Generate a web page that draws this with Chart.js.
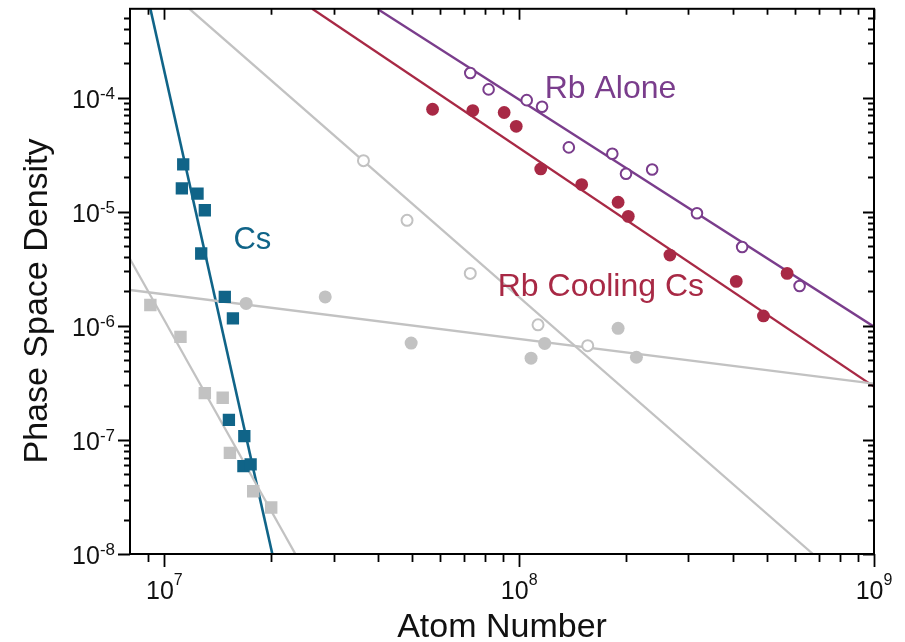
<!DOCTYPE html>
<html>
<head>
<meta charset="utf-8">
<title>Phase Space Density vs Atom Number</title>
<script src="https://cdn.jsdelivr.net/npm/chart.js@4.4.1/dist/chart.umd.min.js"></script>
<style>
    html, body { margin: 0; padding: 0; background: #fff; }
    canvas { display: block; }
</style>
</head>
<body>
<canvas id="myChart" width="905" height="642"></canvas>
<script>
// values (atom number, phase space density)
const csN = [1.13e7, 1.12e7, 1.24e7, 1.30e7, 1.27e7, 1.48e7, 1.56e7, 1.52e7, 1.68e7, 1.67e7, 1.75e7];
const csPSD = [2.6e-5, 1.6e-5, 1.44e-5, 1.03e-5, 4.3e-6, 1.79e-6, 1.16e-6, 1.5e-7, 1.08e-7, 5.9e-8, 6.1e-8];

const csGrayN = [9.13e6, 1.11e7, 1.30e7, 1.46e7, 1.53e7, 1.78e7, 2.0e7];
const csGrayPSD = [1.52e-6, 8.0e-7, 2.57e-7, 2.34e-7, 7.7e-8, 3.55e-8, 2.56e-8];

const rbAloneN = [7.28e7, 8.2e7, 1.05e8, 1.16e8, 1.38e8, 1.83e8, 2.0e8, 2.37e8, 3.17e8, 4.25e8, 6.17e8];
const rbAlonePSD = [1.64e-4, 1.18e-4, 9.5e-5, 8.3e-5, 3.66e-5, 3.22e-5, 2.15e-5, 2.34e-5, 9.7e-6, 4.9e-6, 2.23e-6];

const rbCoolN = [5.7e7, 7.4e7, 9.07e7, 9.81e7, 1.15e8, 1.5e8, 1.9e8, 2.03e8, 2.66e8, 4.09e8, 5.69e8, 4.88e8];
const rbCoolPSD = [7.9e-5, 7.7e-5, 7.4e-5, 5.6e-5, 2.37e-5, 1.73e-5, 1.21e-5, 9.1e-6, 4.17e-6, 2.45e-6, 2.88e-6, 1.22e-6];

const grayOpenN = [3.64e7, 4.83e7, 7.28e7, 1.13e8, 1.56e8];
const grayOpenPSD = [2.8e-5, 8.4e-6, 2.88e-6, 1.02e-6, 6.7e-7];

const grayFilledN = [1.70e7, 2.84e7, 4.96e7, 1.08e8, 1.18e8, 1.90e8, 2.14e8];
const grayFilledPSD = [1.57e-6, 1.79e-6, 7.06e-7, 5.2e-7, 7.0e-7, 9.5e-7, 5.3e-7];

// fit lines, end points where they leave the frame
const csFitN = [9.13e6, 2.015e7];
const csFitPSD = [6e-4, 1e-8];
const csGrayFitN = [8e6, 2.34e7];
const csGrayFitPSD = [3.85e-6, 1e-8];
const rbAloneFitN = [3.98e7, 1e9];
const rbAloneFitPSD = [6e-4, 9.8e-7];
const rbCoolFitN = [2.61e7, 1e9];
const rbCoolFitPSD = [6e-4, 2.93e-7];
const grayOpenFitN = [1.176e7, 6.73e8];
const grayOpenFitPSD = [6e-4, 1e-8];
const grayFilledFitN = [8e6, 1e9];
const grayFilledFitPSD = [2.06e-6, 3.11e-7];

// tick labels (powers of ten)
const xExponents = ['7', '8', '9'];
const yExponents = ['-8', '-7', '-6', '-5', '-4'];

const FONT = '"Liberation Sans", Arial, sans-serif';
const BLUE = '#106488';
const PURPLE = '#7a3d8c';
const RED = '#a82945';
const GRAY = '#c2c2c2';

function pts(xs, ys) {
    return xs.map((x, i) => ({ x: x, y: ys[i] }));
}

function fitLine(xs, ys, color, width) {
    return {
        data: pts(xs, ys),
        showLine: true,
        borderColor: color,
        borderWidth: width,
        pointRadius: 0,
        fill: false,
        order: 2
    };
}

function marks(xs, ys, style, r, fillColor, edgeColor, edgeWidth) {
    return {
        data: pts(xs, ys),
        showLine: false,
        pointStyle: style,
        pointRadius: r,
        backgroundColor: fillColor,
        borderColor: edgeColor,
        borderWidth: edgeWidth,
        order: 1
    };
}

function logTicks(min, max) {
    const out = [];
    for (let e = Math.floor(Math.log10(min)); e <= Math.ceil(Math.log10(max)); e++) {
        for (let m = 1; m < 10; m++) {
            const v = Number((m * Math.pow(10, e)).toPrecision(3));
            if (v > min * 1.001 && v < max * 0.999) out.push({ v: v, major: m === 1 });
            else if (m === 1 && v >= min * 0.999 && v <= max * 1.001) out.push({ v: v, major: true });
        }
    }
    return out;
}

// frame, ticks on all four sides, superscript labels, titles, series names
const axesPlugin = {
    id: 'axesPlugin',
    afterDraw(chart) {
        const ctx = chart.ctx;
        const a = chart.chartArea;
        const xs = chart.scales.x;
        const ys = chart.scales.y;
        ctx.save();

        ctx.strokeStyle = '#000';
        ctx.lineWidth = 1.8;
        ctx.beginPath();
        logTicks(xs.min, xs.max).forEach(t => {
            const px = Math.round(xs.getPixelForValue(t.v)) + 0.5;
            ctx.moveTo(px, a.bottom);
            ctx.lineTo(px, a.bottom + (t.major ? 13 : 8));
            ctx.moveTo(px, a.top);
            ctx.lineTo(px, a.top + (t.major ? 11 : 6));
        });
        logTicks(ys.min, ys.max).forEach(t => {
            const py = Math.round(ys.getPixelForValue(t.v)) + 0.5;
            ctx.moveTo(a.left, py);
            ctx.lineTo(a.left - (t.major ? 12 : 6), py);
            ctx.moveTo(a.right, py);
            ctx.lineTo(a.right - (t.major ? 11 : 6), py);
        });
        ctx.stroke();

        ctx.lineWidth = 2;
        ctx.strokeRect(a.left, a.top, a.right - a.left, a.bottom - a.top);

        ctx.fillStyle = '#111';
        ctx.textBaseline = 'alphabetic';
        xExponents.forEach(e => {
            const px = xs.getPixelForValue(Math.pow(10, Number(e)));
            ctx.font = '25px ' + FONT;
            const w1 = ctx.measureText('10').width;
            ctx.font = '16px ' + FONT;
            const w2 = ctx.measureText(e).width;
            const x0 = px - (w1 + w2) / 2;
            ctx.textAlign = 'left';
            ctx.font = '25px ' + FONT;
            ctx.fillText('10', x0, a.bottom + 45);
            ctx.font = '16px ' + FONT;
            ctx.fillText(e, x0 + w1, a.bottom + 31);
        });
        yExponents.forEach(e => {
            const py = ys.getPixelForValue(Math.pow(10, Number(e)));
            ctx.textAlign = 'right';
            ctx.font = '17px ' + FONT;
            const w2 = ctx.measureText(e).width;
            ctx.fillText(e, a.left - 15, py + 1);
            ctx.font = '25px ' + FONT;
            ctx.fillText('10', a.left - 15 - w2, py + 10);
        });

        ctx.font = '34px ' + FONT;
        ctx.textAlign = 'center';
        ctx.fillText('Atom Number', (a.left + a.right) / 2, 637);
        ctx.save();
        ctx.translate(47, 301);
        ctx.rotate(-Math.PI / 2);
        ctx.font = '34px ' + FONT;
        ctx.fillText('Phase Space Density', 0, 0);
        ctx.restore();

        ctx.textAlign = 'left';
        ctx.font = '31px ' + FONT;
        ctx.fillStyle = BLUE;
        ctx.fillText('Cs', xs.getPixelForValue(1.565e7), ys.getPixelForValue(4.7e-6));
        ctx.font = '32px ' + FONT;
        ctx.fillStyle = PURPLE;
        ctx.fillText('Rb Alone', xs.getPixelForValue(1.18e8), ys.getPixelForValue(1.0e-4));
        ctx.fillStyle = RED;
        ctx.fillText('Rb Cooling Cs', xs.getPixelForValue(8.7e7), ys.getPixelForValue(1.83e-6));

        ctx.restore();
    }
};

const data = {
    datasets: [
        fitLine(grayFilledFitN, grayFilledFitPSD, GRAY, 2.3),
        fitLine(grayOpenFitN, grayOpenFitPSD, GRAY, 2.3),
        fitLine(csGrayFitN, csGrayFitPSD, GRAY, 2.3),
        fitLine(rbAloneFitN, rbAloneFitPSD, PURPLE, 2.4),
        fitLine(rbCoolFitN, rbCoolFitPSD, RED, 2.4),
        fitLine(csFitN, csFitPSD, BLUE, 2.6),
        marks(grayFilledN, grayFilledPSD, 'circle', 6.5, GRAY, GRAY, 0),
        marks(grayOpenN, grayOpenPSD, 'circle', 5.5, '#fff', GRAY, 2),
        marks(csGrayN, csGrayPSD, 'rect', 8.8, GRAY, GRAY, 0),
        marks(rbAloneN, rbAlonePSD, 'circle', 5.3, '#fff', PURPLE, 2),
        marks(rbCoolN, rbCoolPSD, 'circle', 6.4, RED, RED, 0),
        marks(csN, csPSD, 'rect', 8.7, BLUE, BLUE, 0)
    ]
};

const config = {
    type: 'scatter',
    data: data,
    options: {
        responsive: false,
        animation: false,
        events: [],
        layout: { padding: { left: 130, right: 31, top: 7, bottom: 88 } },
        plugins: {
            legend: { display: false },
            tooltip: { enabled: false }
        },
        scales: {
            x: { type: 'logarithmic', min: 8e6, max: 1e9, display: false },
            y: { type: 'logarithmic', min: 1e-8, max: 6e-4, display: false }
        }
    },
    plugins: [axesPlugin]
};

const myChart = new Chart(document.getElementById('myChart'), config);
</script>
</body>
</html>
